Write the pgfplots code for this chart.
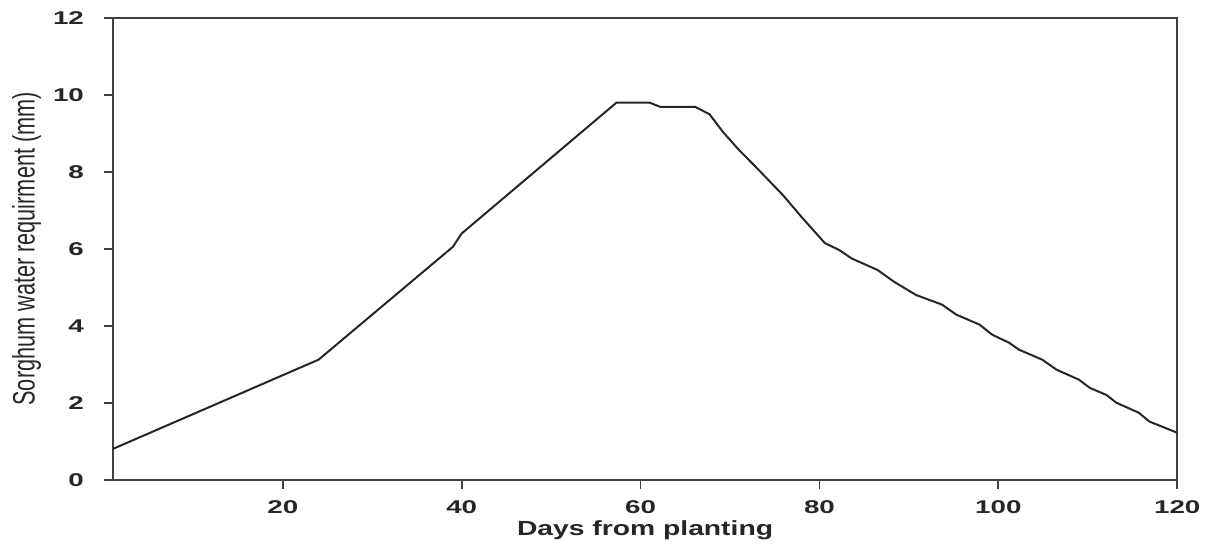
\documentclass[border=0pt]{standalone}
\usepackage{pgfplots}
\pgfplotsset{compat=1.18}
\usepackage{fontspec}
\setmainfont{Liberation Sans}[FakeStretch=1.5]
\newfontfamily\xlabfont{Liberation Sans}[FakeStretch=1.38]
\newfontfamily\ylabfont{Liberation Sans}[FakeStretch=0.70]

\begin{document}
\begin{tikzpicture}
\begin{axis}[
    scale only axis,
    width=532.5pt, height=231pt,
    xmin=1, xmax=120, ymin=0, ymax=12,
    xtick={20,40,60,80,100,120},
    ytick={0,2,4,6,8,10,12},
    tick pos=left,
    tick align=outside,
    major tick length=4.5pt,
    axis line style={line width=1pt, black!75},
    every tick/.style={line width=0.9pt, black!75},
    /pgf/number format/assume math mode=true,
    tick label style={font=\fontsize{9.25}{11}\selectfont\bfseries, black!85},
    x tick label style={yshift=-2.5pt},
    y tick label style={xshift=-6.5pt},
    xlabel={Days from planting},
    ylabel={Sorghum water requirment (mm)},
    xlabel style={at={(axis description cs:0.5,-0.110)}, anchor=center, font=\fontsize{10.25}{12}\xlabfont\bfseries, black!85},
    ylabel style={at={(axis description cs:-0.081,0.5)}, anchor=center, rotate=0, font=\fontsize{15.5}{18}\ylabfont, black!85},
]
\addplot[line width=1pt, black!85] coordinates {
    (1,0.8) (24,3.12) (39,6.05) (40,6.4) (57.3,9.8) (61,9.8) (62.2,9.69)
    (66.1,9.69) (67.7,9.5) (69.2,9.04) (71,8.57) (73,8.1) (75.9,7.4)
    (78.1,6.8) (80.6,6.15) (82.2,5.97) (83.6,5.75) (86.5,5.45) (88.3,5.15)
    (90.8,4.8) (93.7,4.55) (95.3,4.29) (97.9,4.03) (99.3,3.77) (101.2,3.56)
    (102.3,3.38) (104.9,3.12) (106.5,2.86) (109,2.6) (110.2,2.39) (112.1,2.2)
    (113.2,2.0) (115.7,1.74) (116.9,1.51) (120,1.22)
};
\end{axis}
\path ([xshift=-56.5pt,yshift=-31pt]current axis.south west) rectangle ([xshift=14.5pt,yshift=9pt]current axis.north east);
\end{tikzpicture}
\end{document}
